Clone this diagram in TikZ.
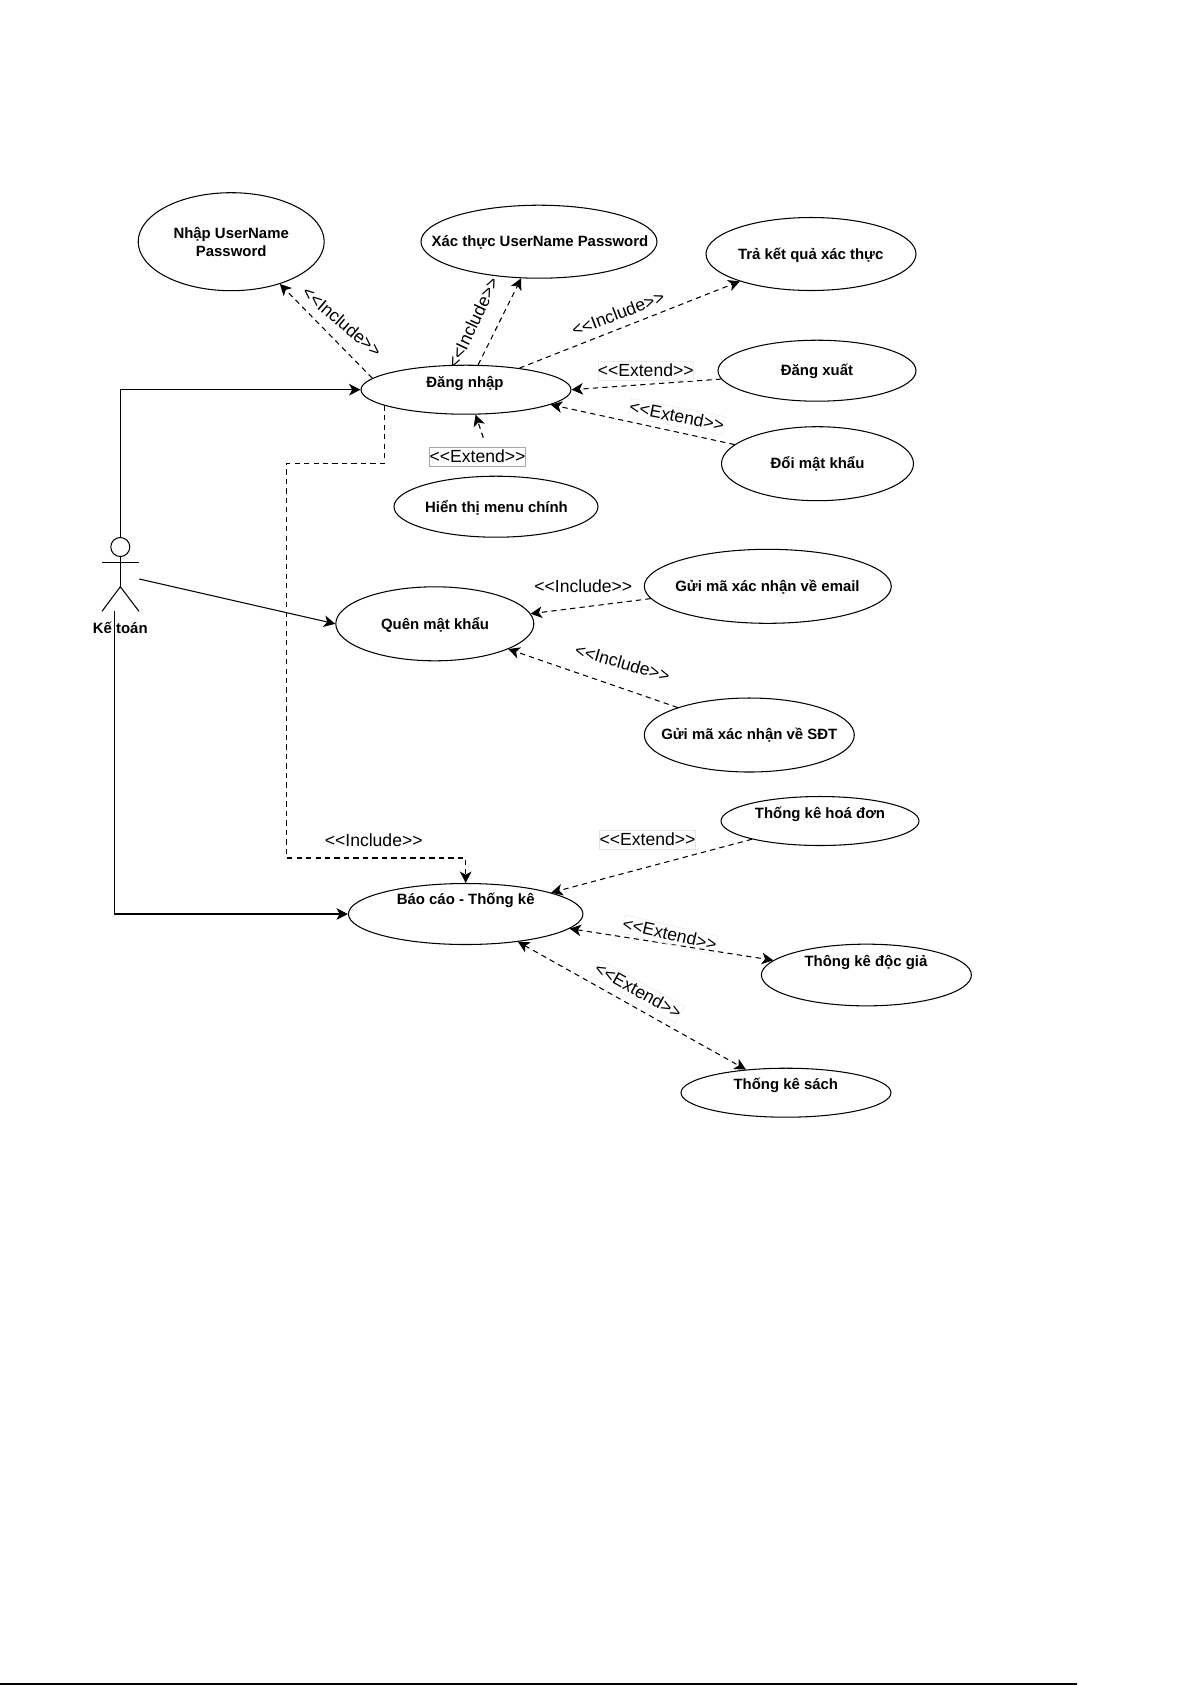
\documentclass[tikz,border=0pt]{standalone}
\usepackage{fontspec}
\setmainfont{Liberation Sans}
\usetikzlibrary{shapes.geometric,arrows.meta}
\newcommand{\incl}{<\kern0pt<Include>\kern0pt>}
\newcommand{\extd}{<\kern0pt<Extend>\kern0pt>}
\tikzset{
	usecase/.style 2 args={ellipse,draw,fill=white,inner sep=0pt,line width=0.6pt,minimum width=#1*0.02cm,minimum height=#2*0.02cm},
	uctext/.style={font=\fontsize{8.5}{10.5}\selectfont\bfseries,align=center,inner sep=0pt},
	rel/.style={font=\fontsize{10}{12}\selectfont,inner sep=0pt},
	relbox/.style={rel,draw=black!#1,line width=0.3pt,minimum height=10.6pt,text height=7.4pt,text depth=1.2pt},
	assoc/.style={line width=0.6pt,-{Stealth[length=6.5pt,width=6.6pt,inset=1.8pt]}},
	dep/.style={assoc,dash pattern=on 3pt off 2.4pt},
	bothtips/.style={<->,>={Stealth[length=6.5pt,width=6.6pt,inset=1.8pt]}},
	actorline/.style={line width=0.6pt}
}
\begin{document}
\begin{tikzpicture}[x=0.02cm,y=-0.02cm]
	\useasboundingbox (0,0) rectangle (1192,1685);
	\node[usecase={186}{98}] (nhap) at (231.2,241.7) {};
	\node[usecase={236}{73}] (xacthuc) at (539,241.7) {};
	\node[usecase={210}{73}] (traketqua) at (811,254) {};
	\node[usecase={210}{49}] (dangnhap) at (466,389.7) {};
	\node[usecase={198}{61}] (dangxuat) at (817,370.7) {};
	\node[usecase={192}{74}] (doimk) at (817.5,463.7) {};
	\node[usecase={204}{61}] (hienthi) at (496,506.7) {};
	\node[usecase={198}{74}] (quenmk) at (434.8,623.8) {};
	\node[usecase={247}{74}] (guiemail) at (767.8,586.3) {};
	\node[usecase={210}{74}] (guisdt) at (749.3,735) {};
	\node[usecase={198}{49}] (tkhoadon) at (820,821) {};
	\node[usecase={234.5}{61}] (baocao) at (465.7,914) {};
	\node[usecase={210}{61.7}] (tkdocgia) at (866.4,975) {};
	\node[usecase={210}{49}] (tksach) at (786,1092.7) {};

	\node[uctext] (nhaptext) at (231.2,242.2) {Nhập UserName\\Password};
	\node[uctext] (xacthuctext) at (540,242.7) {Xác thực UserName Password};
	\node[uctext] (traketquatext) at (810.7,254.8) {Trả kết quả xác thực};
	\node[uctext] (dangnhaptext) at (465,383) {Đăng nhập};
	\node[uctext] (dangxuattext) at (817,371.8) {Đăng xuất};
	\node[uctext] (doimktext) at (817.5,464.2) {Đổi mật khẩu};
	\node[uctext] (hienthitext) at (496.5,507.3) {Hiển thị menu chính};
	\node[uctext] (quenmktext) at (435,624.5) {Quên mật khẩu};
	\node[uctext] (guiemailtext) at (767.5,587.3) {Gửi mã xác nhận về email};
	\node[uctext] (guisdttext) at (749.3,735.5) {Gửi mã xác nhận về SĐT};
	\node[uctext] (tkhoadontext) at (820,814) {Thống kê hoá đơn};
	\node[uctext] (baocaotext) at (465.7,900.5) {Báo cáo - Thống kê};
	\node[uctext] (tkdocgiatext) at (866,962.5) {Thông kê độc giả};
	\node[uctext] (tksachtext) at (785.8,1085.5) {Thống kê sách};

	\node[circle,draw,line width=0.6pt,inner sep=0pt,minimum size=0.38cm] (head) at (120.3,547) {};
	\node[uctext] (ketoan) at (120.3,628.3) {Kế toán};
	\coordinate (neck) at (120.3,556.5);
	\coordinate (hip) at (120.3,586.7);
	\coordinate (armleft) at (102,562.3);
	\coordinate (armright) at (139,562.3);
	\coordinate (legleft) at (102,611.3);
	\coordinate (legright) at (139,611.3);
	\draw[actorline] (neck) -- (hip);
	\draw[actorline] (armleft) -- (armright);
	\draw[actorline] (legleft) -- (hip) -- (legright);

	\coordinate (actorhand) at (139.3,579);
	\coordinate (actorfoot) at (114.3,611.3);
	\draw[assoc] (head.north) |- (dangnhap.west);
	\draw[assoc] (actorhand) -- (quenmk.west);
	\draw[assoc] (actorfoot) |- (baocao.west);

	\draw[dep] (dangnhap.173) -- (nhap.-41.7);
	\draw[dep] (dangnhap.64.3) -- (xacthuc.-116.8);
	\draw[dep] (dangnhap.22) -- (traketqua.-159.4);
	\draw[dep] (dangxuat.-175.5) -- (dangnhap.0);
	\draw[dep] (doimk.167.5) -- (dangnhap.-10);
	\draw[dep,shorten <=22.8pt] (hienthi.north) -- (dangnhap.-69);
	\draw[dep] (guiemail.186.6) -- (quenmk.6.2);
	\draw[dep] (guisdt.159.8) -- (quenmk.-19.1);
	\draw[dep] (tkhoadon.-165.1) -- (baocao.14.7);
	\draw[dep,bothtips] (baocao.-8.5) -- (tkdocgia.171.2);
	\draw[dep,bothtips] (baocao.-28.2) -- (tksach.150.5);

	\coordinate (bendtop) at (286.8,463.3);
	\coordinate (bendbottom) at (286.8,858);
	\draw[dep] (dangnhap.191) |- (bendtop) -- (bendbottom) -| (baocao.north);

	\node[rel,rotate=-40.5] (inclnhap) at (342,321.7) {\incl};
	\node[rel,rotate=64.7] (inclxacthuc) at (472.9,322.7) {\incl};
	\node[rel,rotate=21] (incltra) at (618,313.3) {\incl};
	\node[relbox=8] (extxuat) at (645.7,371) {\extd};
	\node[relbox=8,rotate=-11] (extdoi) at (676.7,416.7) {\extd};
	\node[relbox=35] (extmenu) at (477.5,456.7) {\extd};
	\node[rel] (inclemail) at (583.3,586.7) {\incl};
	\node[rel,rotate=-16] (inclsdt) at (622.5,662.7) {\incl};
	\node[rel] (inclbaocao) at (373.7,840) {\incl};
	\node[relbox=10] (exthoadon) at (647.5,840) {\extd};
	\node[relbox=8,rotate=-13] (extdocgia) at (669.6,934.7) {\extd};
	\node[relbox=8,rotate=-29] (extsach) at (638,991.3) {\extd};

	\draw[line width=1pt] (0,1684) -- (1077,1684);
\end{tikzpicture}
\end{document}
